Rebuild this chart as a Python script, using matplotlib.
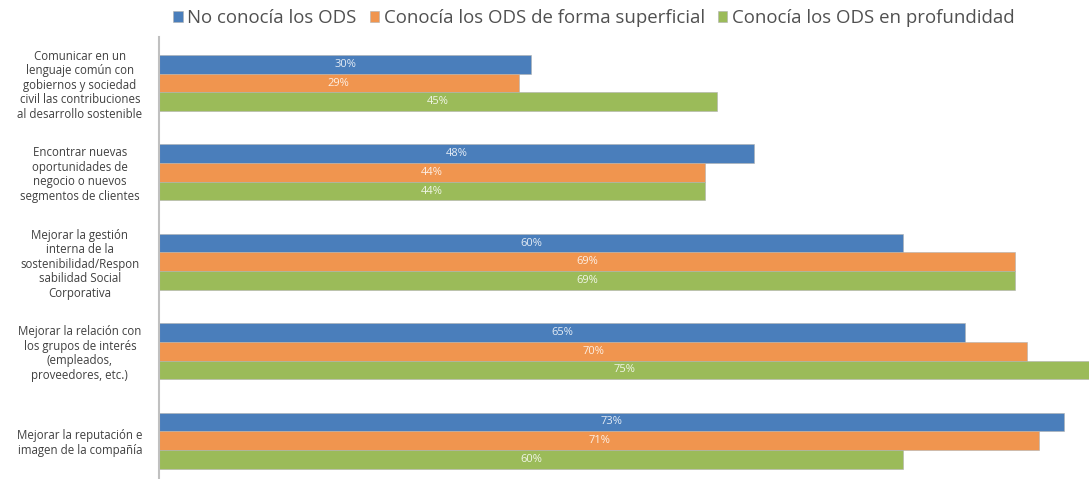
import numpy as np
import matplotlib.pyplot as plt

plt.rcParams['font.family'] = ['Open Sans', 'DejaVu Sans']

categories = [
    "Comunicar en un\nlenguaje común con\ngobiernos y sociedad\ncivil las contribuciones\nal desarrollo sostenible",
    "Encontrar nuevas\noportunidades de\nnegocio o nuevos\nsegmentos de clientes",
    "Mejorar la gestión\ninterna de la\nsostenibilidad/Respon\nsabilidad Social\nCorporativa",
    "Mejorar la relación con\nlos grupos de interés\n(empleados,\nproveedores, etc.)",
    "Mejorar la reputación e\nimagen de la compañía",
]
series = ["No conocía los ODS", "Conocía los ODS de forma superficial", "Conocía los ODS en profundidad"]
no_conocia = [30, 48, 60, 65, 73]
superficial = [29, 44, 69, 70, 71]
profundidad = [45, 44, 69, 75, 60]
colors = ["#4A7EBB", "#F0954F", "#9BBB59"]

values = [no_conocia, superficial, profundidad]
y = np.arange(len(categories))
h = 0.209

fig = plt.figure(figsize=(10.89, 4.79), dpi=100)
ax = fig.add_axes([159 / 1089, 0, 1 - 159 / 1089, 1 - 37 / 479])

for i, (name, vals) in enumerate(zip(series, values)):
    pos = y + (i - 1) * h
    bars = ax.barh(pos, vals, height=h, color=colors[i], label=name,
                   edgecolor="#b0b0b0", linewidth=0.4)
    for b, v in zip(bars, vals):
        ax.text(v / 2, b.get_y() + h / 2, f"{v}%", ha="center", va="center",
                color="white", fontsize=8, alpha=0.85)

ax.set_xlim(0, 75)
ax.set_ylim(4.43, -0.515)
ax.set_yticks(y)
ax.set_yticklabels(categories, ha="center", multialignment="center",
                   fontsize=8.3, color="#404040", linespacing=1.15)
ax.tick_params(axis="y", length=0, pad=57)
ax.set_xticks([])
for s in ["top", "right", "bottom"]:
    ax.spines[s].set_visible(False)
ax.spines["left"].set_color("#c0c0c0")
ax.spines["left"].set_linewidth(1.5)

fig.legend(loc="center", bbox_to_anchor=(594 / 1089, 1 - 18 / 479), ncol=3,
           frameon=False, fontsize=13.4, handlelength=0.5, handleheight=0.5,
           handletextpad=0.25, columnspacing=0.7, labelcolor="#505050")

plt.savefig("out.png", dpi=100)
